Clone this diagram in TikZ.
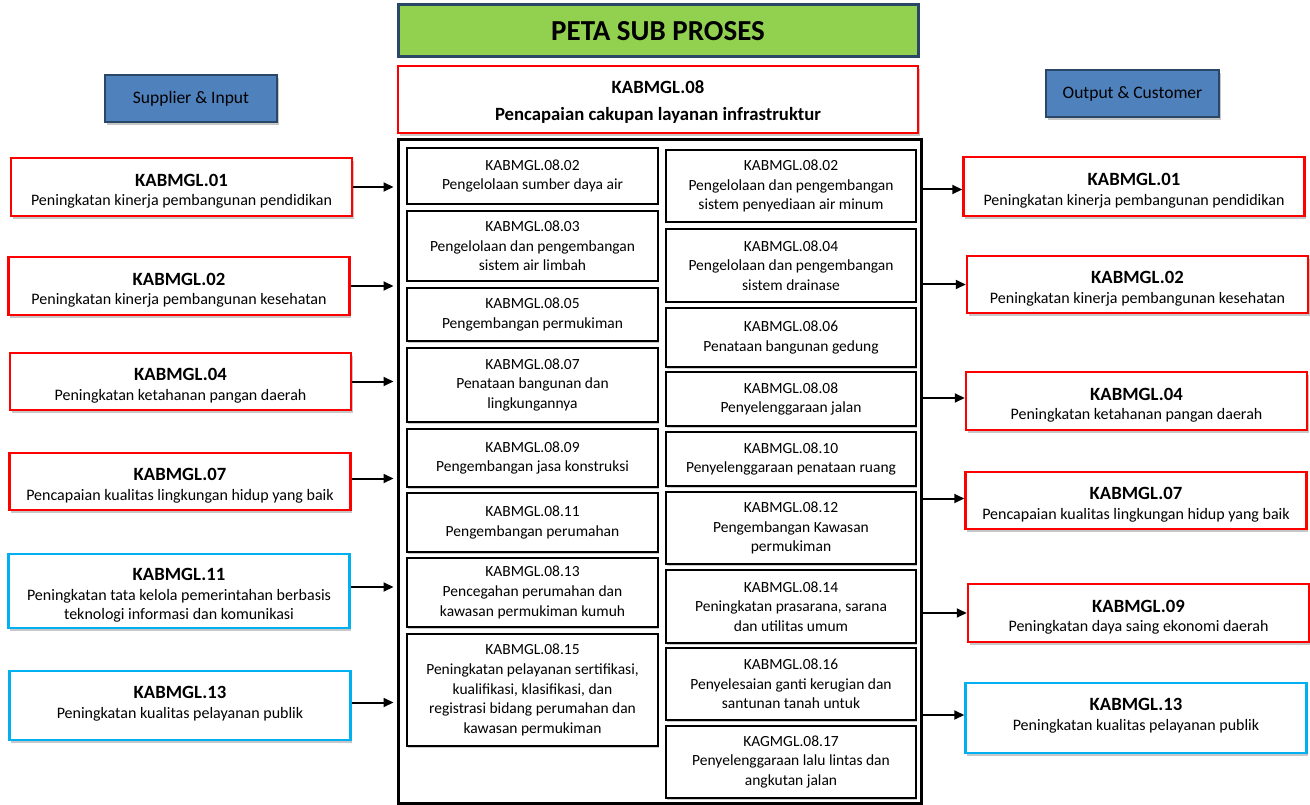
\documentclass[tikz,border=0pt]{standalone}
\usepackage{fontspec}
\setmainfont{Carlito}
\usetikzlibrary{arrows.meta,shadows}

\definecolor{kabred}{HTML}{FF0000}
\definecolor{kabcyan}{HTML}{00B0F0}
\definecolor{kabgreen}{HTML}{92D050}
\definecolor{kabblue}{HTML}{4F81BD}
\definecolor{kabnavy}{HTML}{2B4768}

\newcommand{\kab}[1]{{\bfseries\fontsize{18.7}{19.6}\selectfont\rule{0pt}{21pt}#1}}

\tikzset{
  shade box/.style={drop shadow={shadow xshift=1.5pt, shadow yshift=-3pt, fill=black!22, opacity=1}},
  sidebox/.style={draw=kabred, line width=2.5pt, fill=white, shade box, align=center,
    inner sep=0pt, minimum width=341pt, font=\fontsize{16}{19.6}\selectfont},
  cyanbox/.style={sidebox, draw=kabcyan},
  subbox/.style={draw=black, line width=2.7pt, fill=white, align=center, inner sep=0pt,
    drop shadow={shadow xshift=1pt, shadow yshift=-1.5pt, fill=black!20, opacity=1},
    execute at begin node={\rule{0pt}{16pt}},
    font=\fontsize{15.5}{19.6}\selectfont},
  leftsub/.style={subbox, minimum width=251pt},
  rightsub/.style={subbox, minimum width=250pt},
  headbox/.style={draw=kabnavy, line width=2.5pt, fill=kabblue, shade box,
    minimum width=172pt, minimum height=47pt, font=\fontsize{17.5}{21}\selectfont},
  arr/.style={-{Triangle[length=10pt,width=9pt]}, line width=2pt}
}

\begin{document}
\begin{tikzpicture}[x=1pt,y=-1pt]
  \useasboundingbox (0,0) rectangle (1310,805);

  % heading
  \node[draw=kabnavy, line width=3pt, fill=kabgreen, minimum width=520pt, minimum height=52pt,
    font=\bfseries\fontsize{29}{34}\selectfont] (title) at (658,31) {PETA SUB PROSES};
  \node[draw=kabred, line width=2.5pt, fill=white, shade box, minimum width=520pt, minimum height=67pt,
    align=center, font=\bfseries\fontsize{18.7}{27.5}\selectfont] (kab08) at (658,99.5)
    {\rule{0pt}{18pt}KABMGL.08\\Pencapaian cakupan layanan infrastruktur};

  % process container
  \node[draw, line width=3pt, minimum width=523pt, minimum height=663pt] (cont) at (659.5,471.5) {};

  % sub processes, left column
  \node[leftsub, minimum height=56pt] (s02a) at (532.5,176) {KABMGL.08.02\\Pengelolaan sumber daya air};
  \node[leftsub, minimum height=70pt] (s03) at (532.5,246) {KABMGL.08.03\\Pengelolaan dan pengembangan\\sistem air limbah};
  \node[leftsub, minimum height=53pt] (s05) at (532.5,314.5) {KABMGL.08.05\\Pengembangan permukiman};
  \node[leftsub, minimum height=74pt] (s07) at (532.5,385) {KABMGL.08.07\\Penataan bangunan dan\\lingkungannya};
  \node[leftsub, minimum height=58pt] (s09) at (532.5,458) {KABMGL.08.09\\Pengembangan jasa konstruksi};
  \node[leftsub, minimum height=59pt] (s11) at (532.5,522.5) {KABMGL.08.11\\Pengembangan perumahan};
  \node[leftsub, minimum height=69pt] (s13) at (532.5,592.5) {KABMGL.08.13\\Pencegahan perumahan dan\\kawasan permukiman kumuh};
  \node[leftsub, minimum height=112pt] (s15) at (532.5,690) {KABMGL.08.15\\Peningkatan pelayanan sertifikasi,\\kualifikasi, klasifikasi, dan\\registrasi bidang perumahan dan\\kawasan permukiman};

  % sub processes, right column
  \node[rightsub, minimum height=72pt] (s02b) at (791,186) {KABMGL.08.02\\Pengelolaan dan pengembangan\\sistem penyediaan air minum};
  \node[rightsub, minimum height=73pt] (s04) at (791,265.5) {KABMGL.08.04\\Pengelolaan dan pengembangan\\sistem drainase};
  \node[rightsub, minimum height=59pt] (s06) at (791,337.5) {KABMGL.08.06\\Penataan bangunan gedung};
  \node[rightsub, minimum height=54pt] (s08) at (791,399) {KABMGL.08.08\\Penyelenggaraan jalan};
  \node[rightsub, minimum height=54pt] (s10) at (791,459) {KABMGL.08.10\\Penyelenggaraan penataan ruang};
  \node[rightsub, minimum height=72pt] (s12) at (791,528) {KABMGL.08.12\\Pengembangan Kawasan\\permukiman};
  \node[rightsub, minimum height=73pt] (s14) at (791,606.5) {KABMGL.08.14\\Peningkatan prasarana, sarana\\dan utilitas umum};
  \node[rightsub, minimum height=72pt] (s16) at (791,684) {KABMGL.08.16\\Penyelesaian ganti kerugian dan\\santunan tanah untuk};
  \node[rightsub, minimum height=72pt] (s17) at (791,762) {KAGMGL.08.17\\Penyelenggaraan lalu lintas dan\\angkutan jalan};

  % supplier & input
  \node[headbox] (supp) at (191,98.5) {Supplier \& Input};
  \node[sidebox, minimum height=58pt] (l01) at (181.5,187) {\kab{KABMGL.01}\\Peningkatan kinerja pembangunan pendidikan};
  \node[sidebox, minimum height=58pt] (l02) at (179,286) {\kab{KABMGL.02}\\Peningkatan kinerja pembangunan kesehatan};
  \node[sidebox, minimum height=57pt] (l04) at (180.5,381.5) {\kab{KABMGL.04}\\Peningkatan ketahanan pangan daerah};
  \node[sidebox, minimum height=57pt] (l07) at (180,481.5) {\kab{KABMGL.07}\\Pencapaian kualitas lingkungan hidup yang baik};
  \node[cyanbox, minimum height=74pt] (l11) at (179,591) {\kab{KABMGL.11}\\Peningkatan tata kelola pemerintahan berbasis\\teknologi informasi dan komunikasi};
  \node[cyanbox, minimum height=69pt] (l13) at (180,705.5) {\kab{KABMGL.13}\\Peningkatan kualitas pelayanan publik\\[-4pt]};

  % output & customer
  \node[headbox, minimum width=173pt] (outc) at (1132.5,93.5) {Output \& Customer};
  \node[sidebox, minimum height=59pt] (r01) at (1134,186.5) {\kab{KABMGL.01}\\Peningkatan kinerja pembangunan pendidikan};
  \node[sidebox, minimum height=57pt] (r02) at (1137.5,284.5) {\kab{KABMGL.02}\\Peningkatan kinerja pembangunan kesehatan};
  \node[sidebox, minimum height=58pt] (r04) at (1136.5,401) {\kab{KABMGL.04}\\Peningkatan ketahanan pangan daerah};
  \node[sidebox, minimum height=57pt] (r07) at (1136,500.5) {\kab{KABMGL.07}\\Pencapaian kualitas lingkungan hidup yang baik};
  \node[sidebox, minimum height=58pt] (r09) at (1138.5,613) {\kab{KABMGL.09}\\Peningkatan daya saing ekonomi daerah};
  \node[cyanbox, minimum height=70pt] (r13) at (1136,718) {\kab{KABMGL.13}\\Peningkatan kualitas pelayanan publik\\[-4pt]};

  % inputs into the process
  \draw[arr, shorten >=3pt] (l01.east) -- (l01.east -| cont.west);
  \draw[arr, shorten >=3pt] (l02.east) -- (l02.east -| cont.west);
  \draw[arr, shorten >=3pt] (l04.east) -- (l04.east -| cont.west);
  \draw[arr, shorten >=3pt] ([yshift=3pt]l07.east) -- ([yshift=3pt]l07.east -| cont.west);
  \draw[arr, shorten >=3pt] ([yshift=4pt]l11.east) -- ([yshift=4pt]l11.east -| cont.west);
  \draw[arr, shorten >=3pt] ([yshift=3pt]l13.east) -- ([yshift=3pt]l13.east -| cont.west);

  % outputs to customers
  \draw[arr] ([yshift=-3pt]r01.west -| cont.east) -- ([yshift=-3pt]r01.west);
  \draw[arr] (r02.west -| cont.east) -- (r02.west);
  \draw[arr] ([yshift=3pt]r04.west -| cont.east) -- ([yshift=3pt]r04.west);
  \draw[arr] ([yshift=2pt]r07.west -| cont.east) -- ([yshift=2pt]r07.west);
  \draw[arr] (r09.west -| cont.east) -- (r09.west);
  \draw[arr] ([yshift=3pt]r13.west -| cont.east) -- ([yshift=3pt]r13.west);
\end{tikzpicture}
\end{document}
